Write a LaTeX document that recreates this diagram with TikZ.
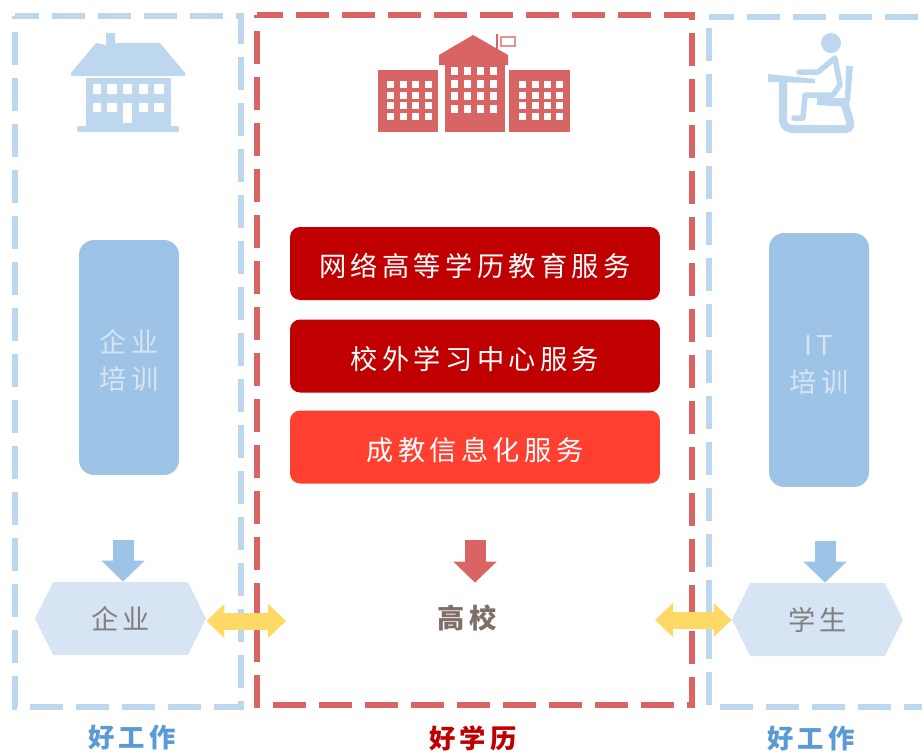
\documentclass[tikz,border=0pt]{standalone}
\usepackage{fontspec}
\usetikzlibrary{arrows.meta,shapes.symbols}
\newfontfamily\cjk[LetterSpace=16]{Noto Sans CJK SC}
\definecolor{boxblue}{HTML}{BDD7EE}
\definecolor{barblue}{HTML}{9DC3E6}
\definecolor{hexblue}{HTML}{D6E4F4}
\definecolor{lblblue}{HTML}{5B9BD5}
\definecolor{softred}{HTML}{D96464}
\definecolor{darkred}{HTML}{C00000}
\definecolor{hotred}{HTML}{FF4030}
\definecolor{arrowyellow}{HTML}{FFD966}
\definecolor{warmgray}{HTML}{7F6F66}
\tikzset{
	dashbox/.style={line width=0.12cm, dash pattern=on 0.66cm off 0.26cm},
	bluebar/.style={fill=barblue, text=hexblue, rounded corners=0.3cm, minimum width=2cm, align=center, font=\cjk\fontsize{15.5}{21}\selectfont},
	redbar/.style={fill=#1, text=white, rounded corners=0.2cm, minimum width=7.4cm, minimum height=1.46cm, text height=16pt, text depth=1pt, font=\cjk\fontsize{15.5}{18}\selectfont},
	hexnode/.style={signal, signal to=west and east, signal pointer angle=127, fill=hexblue, text=black!50, minimum width=3.42cm, minimum height=1.46cm, inner sep=0pt, font=\cjk\fontsize{15.5}{18}\selectfont},
	lbl/.style={font=\cjk\bfseries\fontsize{15}{18}\selectfont},
	downarrow/.style={line width=0.42cm, -{Triangle[length=0.42cm,width=0.84cm]}},
	bothways/.style={arrowyellow, line width=0.34cm, {Triangle[length=0.36cm,width=0.66cm]}-{Triangle[length=0.36cm,width=0.66cm]}},
}
\begin{document}
\begin{tikzpicture}[x=0.02cm,y=-0.02cm]
		\useasboundingbox (0,0) rectangle (922,751);
		
		\draw[dashbox, dash phase=0.18cm, boxblue] (15,16) -- (241,16) -- (241,707) -- (15,707) -- cycle;
		\draw[dashbox, dash phase=0.14cm, softred] (257,15) -- (692,15) -- (692,705) -- (257,705) -- cycle;
		\draw[dashbox, dash phase=0.16cm, boxblue] (709,17) -- (940,17);
		\draw[dashbox, boxblue] (937,707) -- (709,707) -- (709,17);
		
		% house
		\fill[boxblue] (106,45) -- (106,33) -- (115,33) -- (115,43) -- (160,43) -- (185,73) -- (185,76) -- (71,76) -- (71,73) -- (96,43) -- cycle;
		\fill[boxblue] (86,78) rectangle (171,127);
		\fill[boxblue, rounded corners=1pt] (77,126) rectangle (179,132);
		\foreach \x/\w in {93/8,107/10,123/9,139/9,154/10}
			\fill[white, rounded corners=0.5pt] (\x,84) rectangle (\x+\w,94);
		\foreach \x/\w in {93/8,107/10,139/9,154/10}
			\fill[white, rounded corners=0.5pt] (\x,103) rectangle (\x+\w,112);
		\fill[white] (123,103) rectangle (132,123);
		
		% school
		\fill[softred] (378,70) rectangle (438,132);
		\fill[softred] (509,70) rectangle (570,132);
		\fill[softred] (445,65) rectangle (505,132);
		\fill[softred] (439,65) -- (439,55) -- (473,35) -- (508,55) -- (508,65) -- cycle;
		\draw[softred, line width=1.5pt] (497,34) -- (497,50);
		\draw[softred!70, line width=0.8pt] (501,37) rectangle (515,46);
		\foreach \x in {451,464,477,490}
			\foreach \y in {67,80,92,105}
				\fill[white] (\x,\y) rectangle (\x+7,\y+8);
		\foreach \x in {387,400,412,425,519,532,544,556}
			\foreach \y in {81,92,102,113}
				\fill[white] (\x,\y) rectangle (\x+7,\y+7);
		
		% student
		\fill[boxblue] (831,43) circle (10);
		\draw[boxblue, line width=0.11cm, line join=round, line cap=round] (799,72) -- (818,72) -- (835,58) -- (840,85) -- (833,95) -- (805,95) -- (803,118) -- (794,118);
		\fill[boxblue] (768,74) -- (815,79) -- (815,83) -- (768,82) -- cycle;
		\fill[boxblue] (846,66) -- (853,66) -- (850,100) -- (848,107) -- (817,105) -- (817,98) -- (845,98) -- cycle;
		\draw[boxblue, line width=0.16cm] (783,82) -- (783,118) .. controls (783,128) and (788,129) .. (796,129) -- (845,129) .. controls (851,129) and (851,124) .. (849,118) -- (845,105);
		
		\node[bluebar, minimum height=4.7cm] (qp) at (129,357.5) {\rule{0pt}{17pt}企业\\培训};
		\node[bluebar, minimum height=5.08cm] (ip) at (819,360) {\rule{0pt}{17pt}IT\\培训};
		
		\node[redbar=darkred] (wl) at (475,263.5) {网络高等学历教育服务};
		\node[redbar=darkred] (xw) at (475,356) {校外学习中心服务};
		\node[redbar=hotred] (cj) at (475,447) {成教信息化服务};
		
		\node[hexnode] (qy) at (120.5,618.5) {企业};
		\node[hexnode] (xs) at (817.5,619.5) {学生};
		\node[text=warmgray, minimum height=1.4cm, font=\cjk\bfseries\fontsize{15.5}{18}\selectfont] (gx) at (467,618) {高校};
		
		\coordinate (qa) at (123,540);
		\coordinate (ga) at (475,540);
		\coordinate (xa) at (825,541);
		\coordinate (la) at (286,621);
		\coordinate (ra) at (655,620);
		
		\draw[downarrow, barblue] (qa) -- (qa |- qy.north);
		\draw[downarrow, softred] (ga) -- (ga |- gx.north);
		\draw[downarrow, barblue] (xa) -- (xa |- xs.north);
		\draw[bothways] (qy.east |- la) -- (la);
		\draw[bothways] (ra) -- (xs.west |- ra);
		
		\node[lbl, text=lblblue] (lq) at (132,738) {好工作};
		\node[lbl, text=darkred] (lg) at (473,738) {好学历};
		\node[lbl, text=lblblue] (lx) at (811,739) {好工作};
		\end{tikzpicture}
\end{document}
